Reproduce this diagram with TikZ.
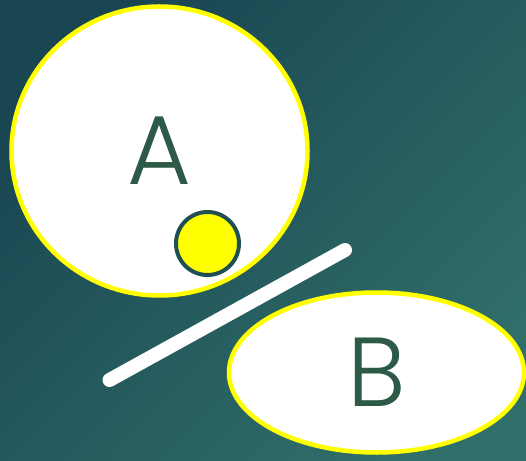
\documentclass[tikz,border=0pt]{standalone}
\usepackage{fontspec}
\usetikzlibrary{shapes.geometric}
\newfontfamily\letterfont{Poppins Light}

\definecolor{bgdark}{HTML}{1A4652}
\definecolor{bglight}{HTML}{306E69}
\definecolor{lettergreen}{HTML}{2C5A46}
\definecolor{dotrim}{HTML}{1E4F55}
\definecolor{brightyellow}{HTML}{FFFF00}

\begin{document}
\begin{tikzpicture}[x=1pt, y=1pt]

% Estilos de las regiones
\tikzset{
    region/.style={
        ellipse,
        draw=brightyellow,
        fill=white,
        line width=4.5pt,
        inner sep=0pt,
        text=lettergreen,
        font=\letterfont\fontsize{98}{98}\selectfont
    },
    marble/.style={
        circle,
        draw=dotrim,
        fill=brightyellow,
        line width=4pt,
        inner sep=0pt,
        minimum size=63pt
    }
}

% =============================================
% FONDO CON DEGRADADO
% =============================================
\useasboundingbox (0,0) rectangle (526,460);
\shade[top color=bgdark, bottom color=bglight, shading angle=45]
    (0,0) rectangle (526,460);

% =============================================
% REGIONES A Y B
% =============================================
\node[region, minimum width=296pt, minimum height=289pt] (regA) at (159.5,309) {A};
\node[region, minimum width=295pt, minimum height=160pt] (regB) at (376.5,87.5) {B};

% Bola pequeña dentro de A
\node[marble] (dot) at (207.5,216.5) {};

% Barrera entre las dos regiones
\coordinate (wallLow) at (109.5,80);
\coordinate (wallHigh) at (345,210);
\draw[white, line width=14pt, line cap=round] (wallLow) -- (wallHigh);

\end{tikzpicture}
\end{document}
